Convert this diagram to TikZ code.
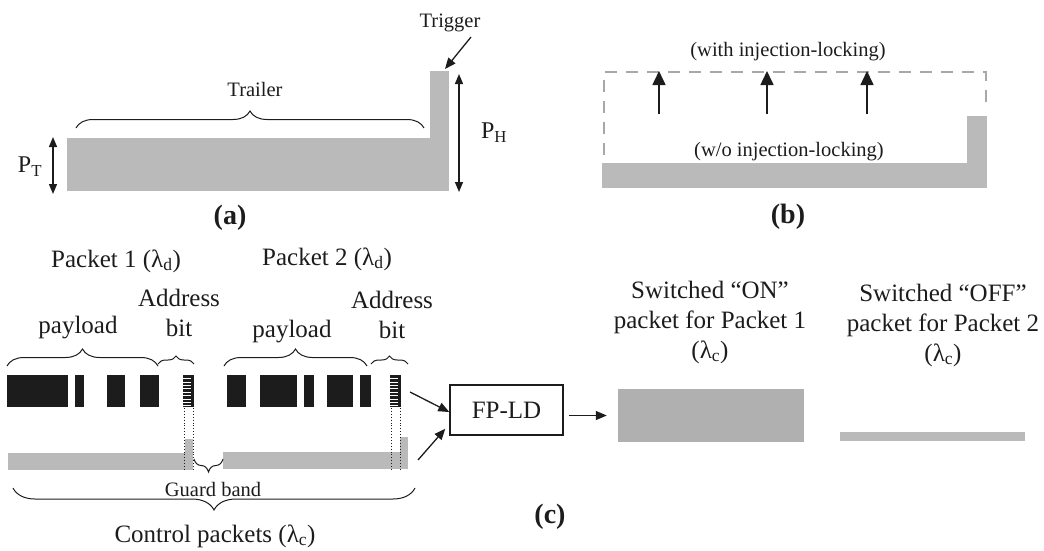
\documentclass[tikz,border=0pt]{standalone}
\usepackage{fontspec}
\setmainfont{Liberation Serif}
\usetikzlibrary{decorations.pathreplacing,arrows.meta}
\definecolor{barc}{RGB}{186,186,186}
\definecolor{onc}{RGB}{176,176,176}
\definecolor{dashc}{RGB}{168,168,168}
\definecolor{ink}{RGB}{28,28,28}
\begin{document}
\begin{tikzpicture}[x=1pt,y=-1pt,
  lblA/.style={font=\fontsize{20.5}{24}\selectfont, text=ink, inner sep=0pt},
  lblP/.style={font=\fontsize{24}{28}\selectfont, text=ink, inner sep=0pt},
  lblC/.style={font=\fontsize{25}{30}\selectfont, text=ink, inner sep=0pt, align=center},
  capt/.style={font=\fontsize{28}{32}\selectfont\bfseries, text=ink, inner sep=0pt},
  brc/.style={decorate, decoration={brace, amplitude=#1}, draw=ink, line width=1pt},
  arr/.style={-{Triangle[length=11pt,width=9pt]}, line width=1.3pt, draw=ink},
  bigarr/.style={-{Triangle[length=14pt,width=13pt]}, line width=1.6pt, draw=ink},
  darr/.style={{Triangle[length=10pt,width=8pt]}-{Triangle[length=10pt,width=8pt]}, line width=1.3pt, draw=ink},
  dotl/.style={draw=ink, dotted, line width=0.9pt},
]
\useasboundingbox (0,0) rectangle (1044,550);

% ---------------- panel (a)
\fill[barc] (67,138) rectangle (449,191);
\fill[barc] (430,71) rectangle (449,138);
\node[lblA] (trig) at (450,23) {Trigger};
\coordinate (trigtail) at (471,37);
\coordinate (trigtop) at (445,69);
\draw[arr] (trigtail) -- (trigtop);
\coordinate (phtop) at (459,74);
\coordinate (phbot) at (459,192);
\draw[darr] (phtop) -- (phbot);
\node[lblP] (ph) at (494,133) {P\textsubscript{H}};
\coordinate (pttop) at (53,137);
\coordinate (ptbot) at (53,194);
\draw[darr] (pttop) -- (ptbot);
\node[lblP] (pt) at (30,167) {P\textsubscript{T}};
\coordinate (trl) at (76,128);
\coordinate (trr) at (424,128);
\draw[brc=17pt] (trl) -- (trr);
\node[lblA] (trailer) at (255,89) {Trailer};
\node[capt] (capa) at (230,218) {(a)};

% ---------------- panel (b)
\fill[barc] (602,163) rectangle (987,188);
\fill[barc] (967,116) rectangle (987,163);
\draw[dashc, line width=2.5pt, dash pattern=on 12pt off 9pt] (604,155) -- (604,72) -- (986,72) -- (986,110);
\foreach \i/\xx in {1/659,2/767,3/867}{
  \coordinate (ab\i) at (\xx,114);
  \coordinate (at\i) at (\xx,71);
  \draw[bigarr] (ab\i) -- (at\i);
}
\node[lblA] (withil) at (788,52) {(with injection-locking)};
\node[lblA] (woil) at (789,152) {(w/o injection-locking)};
\node[capt] (capb) at (788,217) {(b)};

% ---------------- panel (c)
\node[lblC] (pk1) at (116,261) {Packet 1 (λ\textsubscript{d})};
\node[lblC] (pk2) at (327,259) {Packet 2 (λ\textsubscript{d})};
\node[lblC] (ad1) at (179,313) {Address\\bit};
\node[lblC] (ad2) at (392,315) {Address\\bit};
\node[lblC] (pl1) at (78,328) {payload};
\node[lblC] (pl2) at (292,332) {payload};

% braces
\draw[brc=17pt] (7,366) -- (158,366);
\draw[brc=8pt] (158,364) -- (194,364);
\draw[brc=17pt] (224,366) -- (367,366);
\draw[brc=8pt] (371,364) -- (408,364);

% data blocks
\foreach \a/\b in {7/68,75/84,107/125,140/159,227/246,260/297,304/314,327/353,360/371}{
  \fill[ink] (\a,375) rectangle (\b,407);
}
% address bits (hatched)
\foreach \a in {183,390}{
  \fill[ink] (\a,375) rectangle (\a+11,407);
  \foreach \k in {0,...,8}{
    \draw[white, line width=0.8pt] (\a,378.5+3.4*\k) -- (\a+8,378.5+3.4*\k);
  }
}
% control packets
\fill[barc] (8,453) rectangle (193,470);
\fill[barc] (185,439) rectangle (193,453);
\fill[barc] (223,452) rectangle (408,469);
\fill[barc] (400,437) rectangle (408,452);
\foreach \a in {184,193,391,400}{
  \draw[dotl] (\a,408) -- (\a,470);
}
\draw[brc=13pt] (223,459) -- (194,459);
\node[lblA] (gb) at (213,489) {Guard band};
\draw[brc=22pt] (415,488) -- (13,488);
\node[lblC] (ctrl) at (215,536) {Control packets (λ\textsubscript{c})};

% FP-LD
\node[draw=ink, line width=1.5pt, minimum width=113pt, minimum height=50pt, lblC] (fpld) at (506.5,410) {FP-LD};
\coordinate (in1) at (410,392);
\coordinate (in2) at (418,460);
\draw[arr] (in1) -- ([yshift=-2pt]fpld.west);
\draw[arr] (in2) -- ([shift={(-4pt,7pt)}]fpld.south west);

\node[fill=onc, minimum width=186pt, minimum height=53pt, inner sep=0pt] (on) at (711,415.5) {};
\node[fill=barc, minimum width=185pt, minimum height=9pt, inner sep=0pt] (off) at (932.5,436.5) {};
\draw[arr] ([xshift=5pt]fpld.east |- on.west) -- ([xshift=-11pt]on.west);

\node[lblC] (onlbl) at (710,322) {Switched ``ON''\\packet for Packet 1\\(λ\textsubscript{c})};
\node[lblC] (offlbl) at (943,325) {Switched ``OFF''\\packet for Packet 2\\(λ\textsubscript{c})};
\node[capt] (capc) at (550,517) {(c)};
\end{tikzpicture}
\end{document}
